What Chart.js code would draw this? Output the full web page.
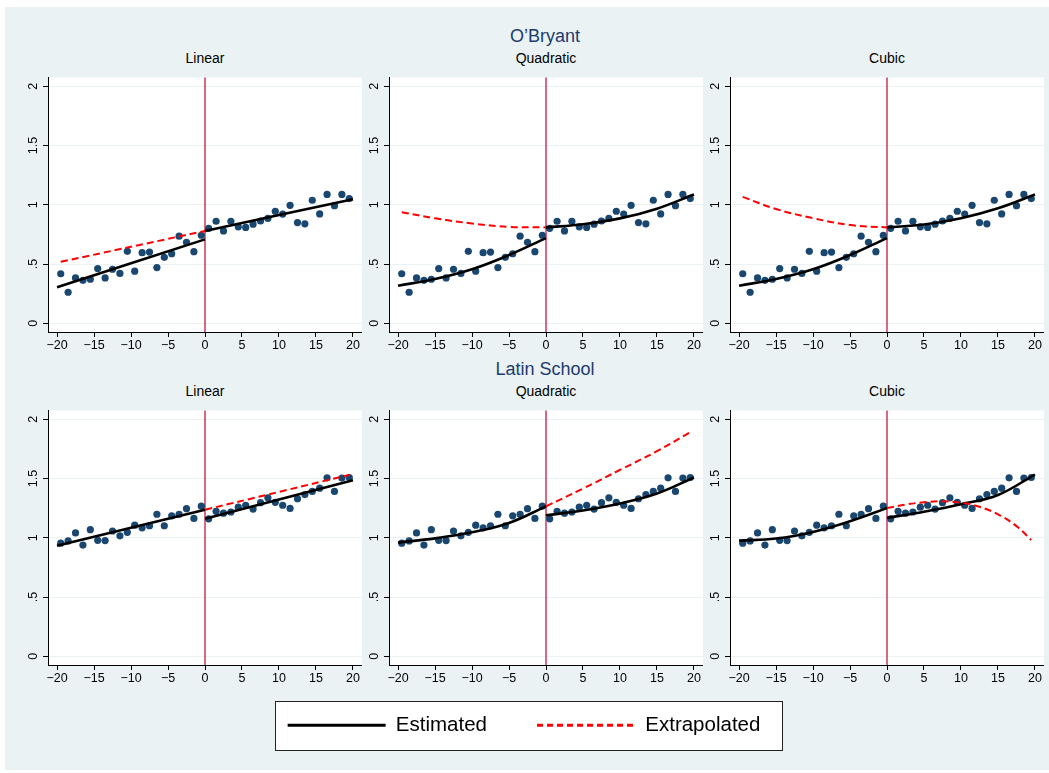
<!DOCTYPE html>
<html>
<head>
<meta charset="utf-8">
<script src="https://cdn.jsdelivr.net/npm/chart.js@4.4.1/dist/chart.umd.min.js"></script>
<style>
  html, body { margin: 0; padding: 0; background: #fff; overflow: hidden; }
  body { width: 1049px; height: 773px; position: relative; font-family: "Liberation Sans", Arial, sans-serif; }
  #bg { position: absolute; left: 5px; top: 7px; width: 1044px; height: 763px; background: #eaf2f3; }
  .t { position: absolute; transform: translate(-50%, -50%); white-space: nowrap; }
  .row { font-size: 18px; color: #1c3c6e; }
  .sub { font-size: 14px; color: #000; }
  canvas { position: absolute; }
  #legbox { position: absolute; left: 275px; top: 701px; width: 506px; height: 48px; background: #fff; border: 1px solid #222; }
</style>
</head>
<body>
<div id="bg"></div>
<div class="t row" style="left:545px;top:36px">O’Bryant</div>
<div class="t row" style="left:545px;top:369px">Latin School</div>
<div id="legbox"></div>
<script>
// running variable (distance from cutoff) of the binned points
var pointX = [-19.5, -18.5, -17.5, -16.5, -15.5, -14.5, -13.5, -12.5, -11.5, -10.5,
  -9.5, -8.5, -7.5, -6.5, -5.5, -4.5, -3.5, -2.5, -1.5, -0.5,
  0.5, 1.5, 2.5, 3.5, 4.5, 5.5, 6.5, 7.5, 8.5, 9.5,
  10.5, 11.5, 12.5, 13.5, 14.5, 15.5, 16.5, 17.5, 18.5, 19.5];

var obryant = [0.418, 0.262, 0.383, 0.363, 0.372, 0.462, 0.383, 0.456, 0.421, 0.607,
  0.440, 0.596, 0.601, 0.470, 0.557, 0.587, 0.735, 0.683, 0.604, 0.743,
  0.801, 0.861, 0.779, 0.861, 0.814, 0.809, 0.836, 0.863, 0.885, 0.945,
  0.921, 0.995, 0.850, 0.839, 1.038, 0.923, 1.087, 0.992, 1.087, 1.052];

var latin = [0.954, 0.973, 1.041, 0.938, 1.068, 0.978, 0.976, 1.057, 1.016, 1.046,
  1.106, 1.084, 1.101, 1.198, 1.101, 1.185, 1.198, 1.245, 1.163, 1.266,
  1.160, 1.223, 1.207, 1.217, 1.258, 1.274, 1.242, 1.296, 1.337, 1.299,
  1.274, 1.247, 1.329, 1.364, 1.391, 1.418, 1.505, 1.391, 1.503, 1.508];

var cutoff = 0;
var xTicks = [-20, -15, -10, -5, 0, 5, 10, 15, 20];
var xTickLabels = ["\u221220", "\u221215", "\u221210", "\u22125", "0", "5", "10", "15", "20"];
var yTicks = [0, 0.5, 1, 1.5, 2];
var yTickLabels = ["0", ".5", "1", "1.5", "2"];

// x positions where the fitted curves were read
var linLeftX = [-20, 0];
var linRightX = [0, 20];
var fitLeftX = [-20, -15, -10, -5, 0];
var fitRightX = [0, 5, 10, 15, 20];
var extLeftX = [-19.5, 0];
var extLeftCurveX = [-19.5, -15, -10, -5, 0];
var extRightX = [0, 19.5];
var extRightCurveX = [0, 5, 10, 15, 19.5];
var extRightFineX = [0, 2.5, 5, 7.5, 10, 12.5, 15, 17.5, 19.5];

// O'Bryant fits
var obLinLeft = [0.305, 0.708];
var obLinRight = [0.779, 1.047];
var obLinExt = [0.519, 0.779];
var obQuadLeft = [0.317, 0.374, 0.456, 0.576, 0.719];
var obQuadRight = [0.809, 0.836, 0.885, 0.967, 1.087];
var obQuadExt = [0.937, 0.886, 0.842, 0.814, 0.809];
var obCubLeft = [0.317, 0.374, 0.456, 0.576, 0.719];
var obCubRight = [0.809, 0.833, 0.886, 0.970, 1.087];
var obCubExt = [1.066, 0.964, 0.887, 0.829, 0.809];

// Latin School fits
var latLinLeft = [0.932, 1.236];
var latLinRight = [1.160, 1.484];
var latLinExt = [1.236, 1.530];
var latQuadLeft = [0.959, 0.995, 1.046, 1.125, 1.265];
var latQuadRight = [1.189, 1.230, 1.289, 1.373, 1.508];
var latQuadExt = [1.265, 1.415, 1.572, 1.730, 1.890];
var latCubLeft = [0.976, 0.993, 1.049, 1.139, 1.250];
var latCubRight = [1.168, 1.220, 1.283, 1.361, 1.533];
var latCubExt = [1.250, 1.280, 1.299, 1.307, 1.296, 1.261, 1.198, 1.098, 0.981];

function pts(xs, ys) {
  return xs.map(function (x, i) { return { x: x, y: ys[i] }; });
}

var panels = [
  { row: 0, col: 0, title: "Linear", y: obryant, lx: linLeftX, l: obLinLeft, rx: linRightX, r: obLinRight, ex: extLeftX, e: obLinExt },
  { row: 0, col: 1, title: "Quadratic", y: obryant, lx: fitLeftX, l: obQuadLeft, rx: fitRightX, r: obQuadRight, ex: extLeftCurveX, e: obQuadExt },
  { row: 0, col: 2, title: "Cubic", y: obryant, lx: fitLeftX, l: obCubLeft, rx: fitRightX, r: obCubRight, ex: extLeftCurveX, e: obCubExt },
  { row: 1, col: 0, title: "Linear", y: latin, lx: linLeftX, l: latLinLeft, rx: linRightX, r: latLinRight, ex: extRightX, e: latLinExt },
  { row: 1, col: 1, title: "Quadratic", y: latin, lx: fitLeftX, l: latQuadLeft, rx: fitRightX, r: latQuadRight, ex: extRightCurveX, e: latQuadExt },
  { row: 1, col: 2, title: "Cubic", y: latin, lx: fitLeftX, l: latCubLeft, rx: fitRightX, r: latCubRight, ex: extRightFineX, e: latCubExt }
];

Chart.defaults.font.family = '"Liberation Sans", Arial, sans-serif';

var panelBg = {
  id: "panelBg",
  beforeDraw: function (chart) {
    var a = chart.chartArea, ctx = chart.ctx;
    ctx.save();
    ctx.fillStyle = "#fff";
    ctx.fillRect(a.left, a.top, a.right - a.left, a.bottom - a.top);
    ctx.restore();
  },
  beforeDatasetsDraw: function (chart) {
    var a = chart.chartArea, ctx = chart.ctx;
    var px = chart.scales.x.getPixelForValue(cutoff);
    ctx.save();
    ctx.strokeStyle = "#c9284f";
    ctx.lineWidth = 1.4;
    ctx.beginPath();
    ctx.moveTo(px, a.top);
    ctx.lineTo(px, a.bottom);
    ctx.stroke();
    ctx.restore();
  }
};

panels.forEach(function (p) {
  var plotLeft = 48 + 341 * p.col;
  var plotTop = 69 + 333 * p.row;

  var sub = document.createElement("div");
  sub.className = "t sub";
  sub.style.left = (plotLeft + 157) + "px";
  sub.style.top = (plotTop - 11) + "px";
  sub.textContent = p.title;
  document.body.appendChild(sub);

  var cv = document.createElement("canvas");
  cv.width = 344;
  cv.height = 290;
  cv.style.left = (plotLeft - 30) + "px";
  cv.style.top = plotTop + "px";
  document.body.appendChild(cv);

  new Chart(cv.getContext("2d"), {
    type: "scatter",
    data: {
      datasets: [
        { data: pts(p.ex, p.e), showLine: true, pointRadius: 0, borderColor: "#ff0000", borderWidth: 2, borderDash: [7, 4], tension: 0.4 },
        { data: pts(p.lx, p.l), showLine: true, pointRadius: 0, borderColor: "#000", borderWidth: 2.6, tension: 0.4 },
        { data: pts(p.rx, p.r), showLine: true, pointRadius: 0, borderColor: "#000", borderWidth: 2.6, tension: 0.4 },
        { data: pts(pointX, p.y), pointRadius: 3.6, pointBackgroundColor: "#1a476f", pointBorderWidth: 0 }
      ]
    },
    options: {
      responsive: false,
      animation: false,
      devicePixelRatio: 1,
      layout: { padding: 0, autoPadding: false },
      plugins: { legend: { display: false }, tooltip: { enabled: false } },
      scales: {
        x: {
          type: "linear", min: -21.22, max: 21.22,
          afterBuildTicks: function (a) { a.ticks = xTicks.map(function (v) { return { value: v }; }); },
          afterFit: function (a) { a.height = 27; },
          grid: { drawOnChartArea: false, tickLength: 5, tickColor: "#000" },
          border: { color: "#000", width: 1 },
          ticks: { color: "#000", font: { size: 12.5 }, padding: 1, maxRotation: 0, autoSkip: false,
            callback: function (v, i) { return xTickLabels[i]; } }
        },
        y: {
          type: "linear", min: -0.073, max: 2.073,
          afterBuildTicks: function (a) { a.ticks = yTicks.map(function (v) { return { value: v }; }); },
          afterFit: function (a) { a.width = 30; },
          grid: { color: "#eaf2f3", tickLength: 5, tickColor: "#000" },
          border: { color: "#000", width: 1 },
          ticks: { color: "#000", font: { size: 12.5 }, padding: 1, minRotation: 90, maxRotation: 90,
            crossAlign: "center", autoSkip: false,
            callback: function (v, i) { return yTickLabels[i]; } }
        }
      }
    },
    plugins: [panelBg]
  });
});

// shared legend
var lc = document.createElement("canvas");
lc.width = 600;
lc.height = 260;
lc.style.left = "224px";
lc.style.top = "665px";
document.body.appendChild(lc);
new Chart(lc.getContext("2d"), {
  type: "line",
  data: {
    datasets: [
      { label: "Estimated", data: [], borderColor: "#000", borderWidth: 3 },
      { label: "Extrapolated", data: [], borderColor: "#ff0000", borderWidth: 3, borderDash: [6, 4] }
    ]
  },
  options: {
    responsive: false,
    animation: false,
    devicePixelRatio: 1,
    layout: { padding: 0 },
    scales: { x: { display: false }, y: { display: false } },
    plugins: {
      tooltip: { enabled: false },
      legend: {
        position: "top",
        labels: {
          usePointStyle: true, pointStyle: "line", pointStyleWidth: 98, padding: 50,
          color: "#000", font: { size: 20.5 },
          generateLabels: function (chart) {
            var items = Chart.defaults.plugins.legend.labels.generateLabels(chart);
            items.forEach(function (it) {
              it.lineDash = chart.data.datasets[it.datasetIndex].borderDash || [];
            });
            return items;
          }
        }
      }
    }
  }
});
</script>
</body>
</html>
